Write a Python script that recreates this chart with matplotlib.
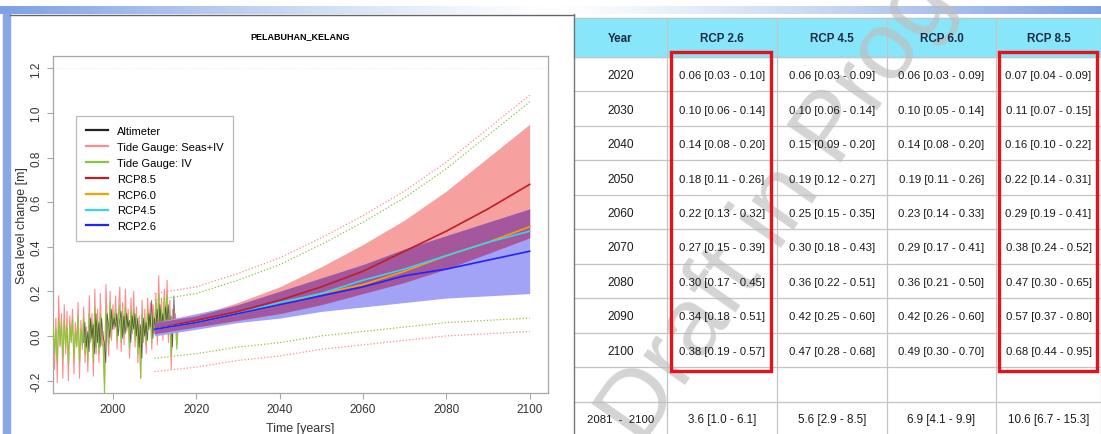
import matplotlib
matplotlib.use('Agg')
import matplotlib.pyplot as plt
from matplotlib.patches import Rectangle
import numpy as np

# tide gauge and altimeter records, one value every 4 months [m]
seas_iv = [0.12, -0.15, 0.08, -0.21, 0.18, -0.05, 0.10, -0.19, 0.14, -0.08, 0.11, -0.20,
           0.09, -0.02, 0.12, -0.17, 0.06, -0.04, 0.15, -0.19, 0.07, -0.06, 0.13, -0.12,
           0.04, -0.16, 0.18, -0.03, 0.10, -0.18, 0.21, -0.08, 0.12, -0.12, 0.19, -0.04,
           0.02, -0.21, 0.23, 0.05, -0.09, 0.20, -0.02, 0.14, 0.03, 0.18, -0.06, 0.11,
           0.22, -0.07, 0.15, -0.04, 0.21, 0.02, 0.12, -0.10, 0.17, 0.01, 0.20, -0.05,
           0.13, -0.12, 0.09, -0.19, 0.16, -0.03, 0.12, -0.08, 0.17, 0.03, 0.15, -0.06,
           0.14, 0.01, 0.19, -0.04, 0.27, 0.02, 0.17, -0.02, 0.21, 0.05, 0.25, -0.03,
           0.16, -0.15, 0.12, 0.02, 0.10, -0.04, 0.08]
iv = [0.05, -0.08, 0.03, -0.12, 0.08, -0.04, 0.06, -0.10, 0.07, -0.05, 0.04, -0.13,
      0.05, -0.03, 0.08, -0.10, 0.02, -0.05, 0.09, -0.12, 0.03, -0.04, 0.08, -0.08,
      0.01, -0.11, 0.10, -0.02, 0.06, -0.12, 0.13, -0.05, 0.07, -0.08, 0.10, -0.03,
      -0.05, -0.26, 0.12, 0.04, -0.04, 0.15, 0.02, 0.09, 0.05, 0.12, -0.02, 0.08,
      0.14, -0.03, 0.10, 0.00, 0.13, 0.03, 0.08, -0.06, 0.11, 0.02, 0.12, -0.02,
      0.09, -0.08, 0.05, -0.19, 0.10, -0.02, 0.07, -0.04, 0.12, 0.03, 0.10, -0.03,
      0.09, 0.02, 0.15, 0.00, 0.19, 0.04, 0.12, 0.01, 0.17, 0.06, 0.18, 0.00,
      0.11, -0.09, 0.08, 0.03, 0.07, -0.06, 0.05]
altimeter = [-0.03, 0.06, -0.05, 0.02, -0.07, 0.08, -0.01, 0.05, -0.08, 0.10, -0.03, 0.06,
             -0.05, 0.08, 0.00, -0.03, -0.12, 0.10, 0.05, -0.01, 0.12, 0.03, 0.08, 0.04,
             0.10, 0.00, 0.07, 0.11, -0.01, 0.09, 0.01, 0.10, 0.04, 0.07, -0.03, 0.09,
             0.03, 0.10, 0.00, 0.08, -0.05, 0.05, -0.10, 0.08, 0.00, 0.06, -0.02, 0.10,
             0.04, 0.16, -0.01, 0.08, 0.03, 0.12, 0.01, 0.14, 0.04, 0.10, 0.02, 0.13,
             0.06, 0.14, 0.01, 0.09, -0.05, 0.18, 0.04, 0.07]
tg_start = 1985.7
alt_start = 1993.0

# projected sea level change: median [5% - 95%] per decade [m]
table_years = [2020, 2030, 2040, 2050, 2060, 2070, 2080, 2090, 2100]
rcp26_med = [0.06, 0.10, 0.14, 0.18, 0.22, 0.27, 0.30, 0.34, 0.38]
rcp26_lo = [0.03, 0.06, 0.08, 0.11, 0.13, 0.15, 0.17, 0.18, 0.19]
rcp26_hi = [0.10, 0.14, 0.20, 0.26, 0.32, 0.39, 0.45, 0.51, 0.57]
rcp45_med = [0.06, 0.10, 0.15, 0.19, 0.25, 0.30, 0.36, 0.42, 0.47]
rcp45_lo = [0.03, 0.06, 0.09, 0.12, 0.15, 0.18, 0.22, 0.25, 0.28]
rcp45_hi = [0.09, 0.14, 0.20, 0.27, 0.35, 0.43, 0.51, 0.60, 0.68]
rcp60_med = [0.06, 0.10, 0.14, 0.19, 0.23, 0.29, 0.36, 0.42, 0.49]
rcp60_lo = [0.03, 0.05, 0.08, 0.11, 0.14, 0.17, 0.21, 0.26, 0.30]
rcp60_hi = [0.09, 0.14, 0.20, 0.26, 0.33, 0.41, 0.50, 0.60, 0.70]
rcp85_med = [0.07, 0.11, 0.16, 0.22, 0.29, 0.38, 0.47, 0.57, 0.68]
rcp85_lo = [0.04, 0.07, 0.10, 0.14, 0.19, 0.24, 0.30, 0.37, 0.44]
rcp85_hi = [0.09, 0.15, 0.22, 0.31, 0.41, 0.52, 0.65, 0.80, 0.95]

# projections start from the 2010 level
start_year = 2010
start_med = 0.03
start_lo = 0.01
start_hi = 0.06

# rate of rise 2081-2100 [mm/yr]
rate_period = '2081  -  2100'
rate_med = [3.6, 5.6, 6.9, 10.6]
rate_lo = [1.0, 2.9, 4.1, 6.7]
rate_hi = [6.1, 8.5, 9.9, 15.3]

# envelopes incl. tide gauge variability
env_years = [2010, 2020, 2030, 2040, 2050, 2060, 2070, 2080, 2090, 2100]
seas_upper = [0.19, 0.22, 0.28, 0.35, 0.44, 0.54, 0.65, 0.78, 0.93, 1.08]
iv_upper = [0.16, 0.19, 0.25, 0.32, 0.41, 0.51, 0.62, 0.75, 0.90, 1.05]
iv_lower = [-0.10, -0.08, -0.05, -0.03, 0.00, 0.02, 0.04, 0.06, 0.07, 0.08]
seas_lower = [-0.16, -0.14, -0.11, -0.09, -0.06, -0.04, -0.02, 0.00, 0.01, 0.02]

W, H = 1101, 435
fig = plt.figure(figsize=(W / 100, H / 100), dpi=100)
fig.patch.set_facecolor('white')

deco = fig.add_axes([0, 0, 1, 1], zorder=0)
deco.set_xlim(0, W)
deco.set_ylim(H, 0)
deco.axis('off')

# slide header bar and left strip
blue = np.array([0.49, 0.63, 0.89])
xg = np.linspace(0, 1, 600)
wg = (np.abs(xg - 0.5) / 0.5) ** 1.2
grad = (1 - wg)[:, None] * np.ones(3) + wg[:, None] * blue
deco.imshow(grad[None, :, :], extent=[0, W, 15, 7], aspect='auto', zorder=1)
deco.add_patch(Rectangle((3, 15), 7, H - 15, color='#86a8e6', zorder=1))
deco.plot([10, 574], [15.5, 15.5], color='#666666', lw=1, zorder=2)

# ---- chart ----
ax = fig.add_axes([52.7 / W, 41 / H, 495.3 / W, 337 / H], zorder=2)
R = '#ff8c8c'
G = '#8cc63c'

t_tg = tg_start + np.arange(len(seas_iv)) / 3
t_alt = alt_start + np.arange(len(altimeter)) / 3
l_seas, = ax.plot(t_tg, seas_iv, color=R, lw=0.8, zorder=2)
l_iv, = ax.plot(t_tg, iv, color=G, lw=0.8, zorder=3)
l_alt, = ax.plot(t_alt, altimeter, color='#222222', lw=0.6, alpha=0.65, zorder=4)

yrs = np.array([start_year] + table_years)
lo85 = np.array([start_lo] + rcp85_lo)
hi85 = np.array([start_hi] + rcp85_hi)
lo26 = np.array([start_lo - 0.01] + rcp26_lo)
hi26 = np.array([start_hi] + rcp26_hi)
ax.fill_between(yrs, lo85, hi85, color='#f6a0a0', lw=0, zorder=5)
ax.fill_between(yrs, lo26, hi26, color='#a2a2f6', lw=0, zorder=5)
ax.fill_between(yrs, np.maximum(lo85, lo26), np.minimum(hi85, hi26),
                color='#a4579c', lw=0, zorder=6)

dots = (0, (1, 1.6))
ax.plot(env_years, seas_upper, color=R, lw=0.9, ls=dots, zorder=5)
ax.plot(env_years, iv_upper, color=G, lw=0.9, ls=dots, zorder=5)
ax.plot(env_years, iv_lower, color=G, lw=0.9, ls=dots, zorder=5)
ax.plot(env_years, seas_lower, color=R, lw=0.9, ls=dots, zorder=5)
ax.axhline(1.2, color='#eeeeee', lw=0.8, ls=':', zorder=1)

l85, = ax.plot(yrs, [start_med] + rcp85_med, color='#be1e24', lw=1.2, zorder=7)
l60, = ax.plot(yrs, [start_med] + rcp60_med, color='#f5a300', lw=1.2, zorder=7)
l45, = ax.plot(yrs, [start_med] + rcp45_med, color='#36d4f2', lw=1.2, zorder=8)
l26, = ax.plot(yrs, [start_med] + rcp26_med, color='#2222ff', lw=1.2, zorder=8)

ax.set_xlim(1985.6, 2104.4)
ax.set_ylim(-0.256, 1.256)
ax.set_xticks(range(2000, 2101, 20))
yt = np.arange(-0.2, 1.21, 0.2)
ax.set_yticks(yt)
ax.set_yticklabels(['%.1f' % v for v in yt], rotation=90, va='center')
for s in ax.spines.values():
    s.set_color('#a6a6a6')
    s.set_linewidth(0.9)
ax.tick_params(direction='out', length=4, color='#a6a6a6', labelsize=8.5,
               labelcolor='#333333')
for lab in ax.get_xticklabels() + ax.get_yticklabels():
    lab.set_family('Liberation Sans')
ax.set_xlabel('Time [years]', fontsize=9, family='Liberation Sans', color='#333333', labelpad=5)
ax.set_ylabel('Sea level change [m]', fontsize=9, family='Liberation Sans', color='#333333', labelpad=2)
ax.set_title('PELABUHAN_KELANG', fontsize=6.5, fontweight='bold', family='Liberation Sans',
             pad=13)

leg = ax.legend([l_alt, l_seas, l_iv, l85, l60, l45, l26],
                ['Altimeter', 'Tide Gauge: Seas+IV', 'Tide Gauge: IV',
                 'RCP8.5', 'RCP6.0', 'RCP4.5', 'RCP2.6'],
                loc='upper left', bbox_to_anchor=(0.0464, 0.822), borderaxespad=0,
                fancybox=False, framealpha=1, edgecolor='#bbbbbb',
                prop={'family': 'Liberation Sans', 'size': 8},
                handlelength=2.0, handletextpad=0.8, labelspacing=0.53,
                borderpad=0.9)
leg.get_frame().set_linewidth(0.9)
for ln in leg.get_lines():
    ln.set_linewidth(1.6)
    ln.set_alpha(1)

# ---- table ----
tfont = 'Liberation Sans'
ink = '#1a1a1a'
col_edges = [574, 667, 777, 887, 996, 1101]
head_top, head_bot, row_h = 18.5, 58, 34.45
n_rows = len(table_years) + 2
row_edges = [head_bot + k * row_h for k in range(n_rows + 1)]

deco.add_patch(Rectangle((col_edges[0], head_top), col_edges[-1] - col_edges[0],
                         head_bot - head_top, color='#88e6fb', zorder=2))
for y in [head_top] + row_edges:
    deco.plot([col_edges[0], col_edges[-1]], [y, y], color='#c4c4c4', lw=0.9, zorder=3)
for x in col_edges[1:]:
    deco.plot([x, x], [head_top, H], color='#c4c4c4', lw=0.9, zorder=3)
deco.plot([574, 574], [15, H], color='#777777', lw=1, zorder=3)

headers = ['Year', 'RCP 2.6', 'RCP 4.5', 'RCP 6.0', 'RCP 8.5']
centers = [(col_edges[i] + col_edges[i + 1]) / 2 for i in range(5)]
for cx, h in zip(centers, headers):
    deco.text(cx, (head_top + head_bot) / 2 + 1, h, ha='center', va='center',
              fontsize=8.4, fontweight='bold', family=tfont, color='#1d2b45', zorder=5)

series = [(rcp26_med, rcp26_lo, rcp26_hi), (rcp45_med, rcp45_lo, rcp45_hi),
          (rcp60_med, rcp60_lo, rcp60_hi), (rcp85_med, rcp85_lo, rcp85_hi)]
for i, yr in enumerate(table_years):
    cy = row_edges[i] + row_h / 2 + 1
    deco.text(centers[0], cy, str(yr), ha='center', va='center', fontsize=8.6,
              family=tfont, color=ink, zorder=5)
    for j, (m, lo, hi) in enumerate(series):
        deco.text(centers[j + 1], cy, '%.2f [%.2f - %.2f]' % (m[i], lo[i], hi[i]),
                  ha='center', va='center', fontsize=8.2, family=tfont,
                  color=ink, zorder=5)

cy = row_edges[-2] + row_h / 2
deco.text(centers[0], cy, rate_period, ha='center', va='center', fontsize=8.2,
          family=tfont, color=ink, zorder=5)
for j in range(4):
    deco.text(centers[j + 1], cy, '%.1f [%.1f - %.1f]' % (rate_med[j], rate_lo[j], rate_hi[j]),
              ha='center', va='center', fontsize=8.4, family=tfont, color=ink, zorder=5)

for x0, x1 in [(671, 771), (999, 1097)]:
    deco.add_patch(Rectangle((x0, 53), x1 - x0, 319, fill=False, ec='#e3121b',
                             lw=2.4, zorder=6))

# watermark sits under the cell text
deco.text(642, 448, 'Draft in Progress', rotation=55, rotation_mode='anchor',
          ha='left', va='baseline', fontsize=70, color='#bdbdbd', alpha=0.65,
          family='Liberation Sans', zorder=4)

fig.savefig('out.png', dpi=100)
